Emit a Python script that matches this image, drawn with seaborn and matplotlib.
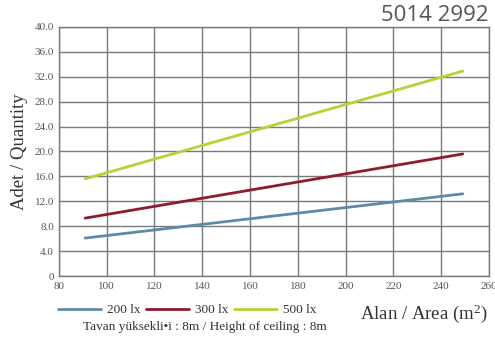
import numpy as np
import pandas as pd
import matplotlib
matplotlib.use("Agg")
import matplotlib.pyplot as plt
import seaborn as sns

# Values (line endpoints, straight lines)
area = [91, 249]
lux_200 = [6.1, 13.2]
lux_300 = [9.3, 19.6]
lux_500 = [15.6, 32.9]
series_names = ["200 lx", "300 lx", "500 lx"]
colors = ["#5d8aa8", "#8e1b30", "#b3d336"]

x_ticks = list(range(80, 261, 20))
y_ticks = [0, 4, 8, 12, 16, 20, 24, 28, 32, 36, 40]
y_tick_labels = ["0"] + [f"{v:.1f}" for v in y_ticks[1:]]

df = pd.DataFrame({
    "area": area * 3,
    "qty": lux_200 + lux_300 + lux_500,
    "series": [s for s in series_names for _ in area],
})

sns.set_style("white")
plt.rcParams["font.family"] = ["Liberation Serif", "DejaVu Serif"]
plt.rcParams["mathtext.fontset"] = "custom"
plt.rcParams["mathtext.rm"] = "Liberation Serif"
plt.rcParams["mathtext.it"] = "Liberation Serif"

fig, ax = plt.subplots(figsize=(4.95, 3.40), dpi=100)
fig.subplots_adjust(left=0.119, right=0.988, top=0.921, bottom=0.188)

sns.lineplot(data=df, x="area", y="qty", hue="series", palette=colors,
             linewidth=2, ax=ax, legend=False)

ax.set_xlim(80, 260)
ax.set_ylim(0, 40)
ax.set_xticks(x_ticks)
ax.set_yticks(y_ticks)
ax.set_yticklabels(y_tick_labels)
ax.tick_params(axis="both", labelsize=8, colors="#555555", length=0, pad=3.5)
ax.tick_params(axis="x", pad=4)
ax.grid(True, color="#7a7a7a", linewidth=1)
for sp in ax.spines.values():
    sp.set_color("#7a7a7a")
    sp.set_linewidth(1)

ax.set_xlabel("")
ax.set_ylabel("Adet / Quantity", fontsize=13.5, color="#333333", labelpad=5)

fig.text(0.984, 0.076, r"Alan / Area (m$^{2}$)", ha="right", va="center",
         fontsize=13.5, color="#333333")
fig.text(0.988, 0.985, "5014 2992", ha="right", va="top", fontsize=16,
         family="Open Sans", color="#555555")
fig.text(0.168, 0.037, "Tavan yüksekli\u2022i : 8m / Height of ceiling : 8m",
         ha="left", va="center", fontsize=9.5, color="#333333")

handles = [plt.Line2D([], [], color=c, linewidth=2) for c in colors]
fig.legend(handles, series_names, loc="center left", bbox_to_anchor=(0.093, 0.088),
           ncol=3, frameon=False, fontsize=9.5, handlelength=3.25,
           handletextpad=0.45, columnspacing=0.45, labelcolor="#333333")

fig.savefig("out.png", dpi=100)
